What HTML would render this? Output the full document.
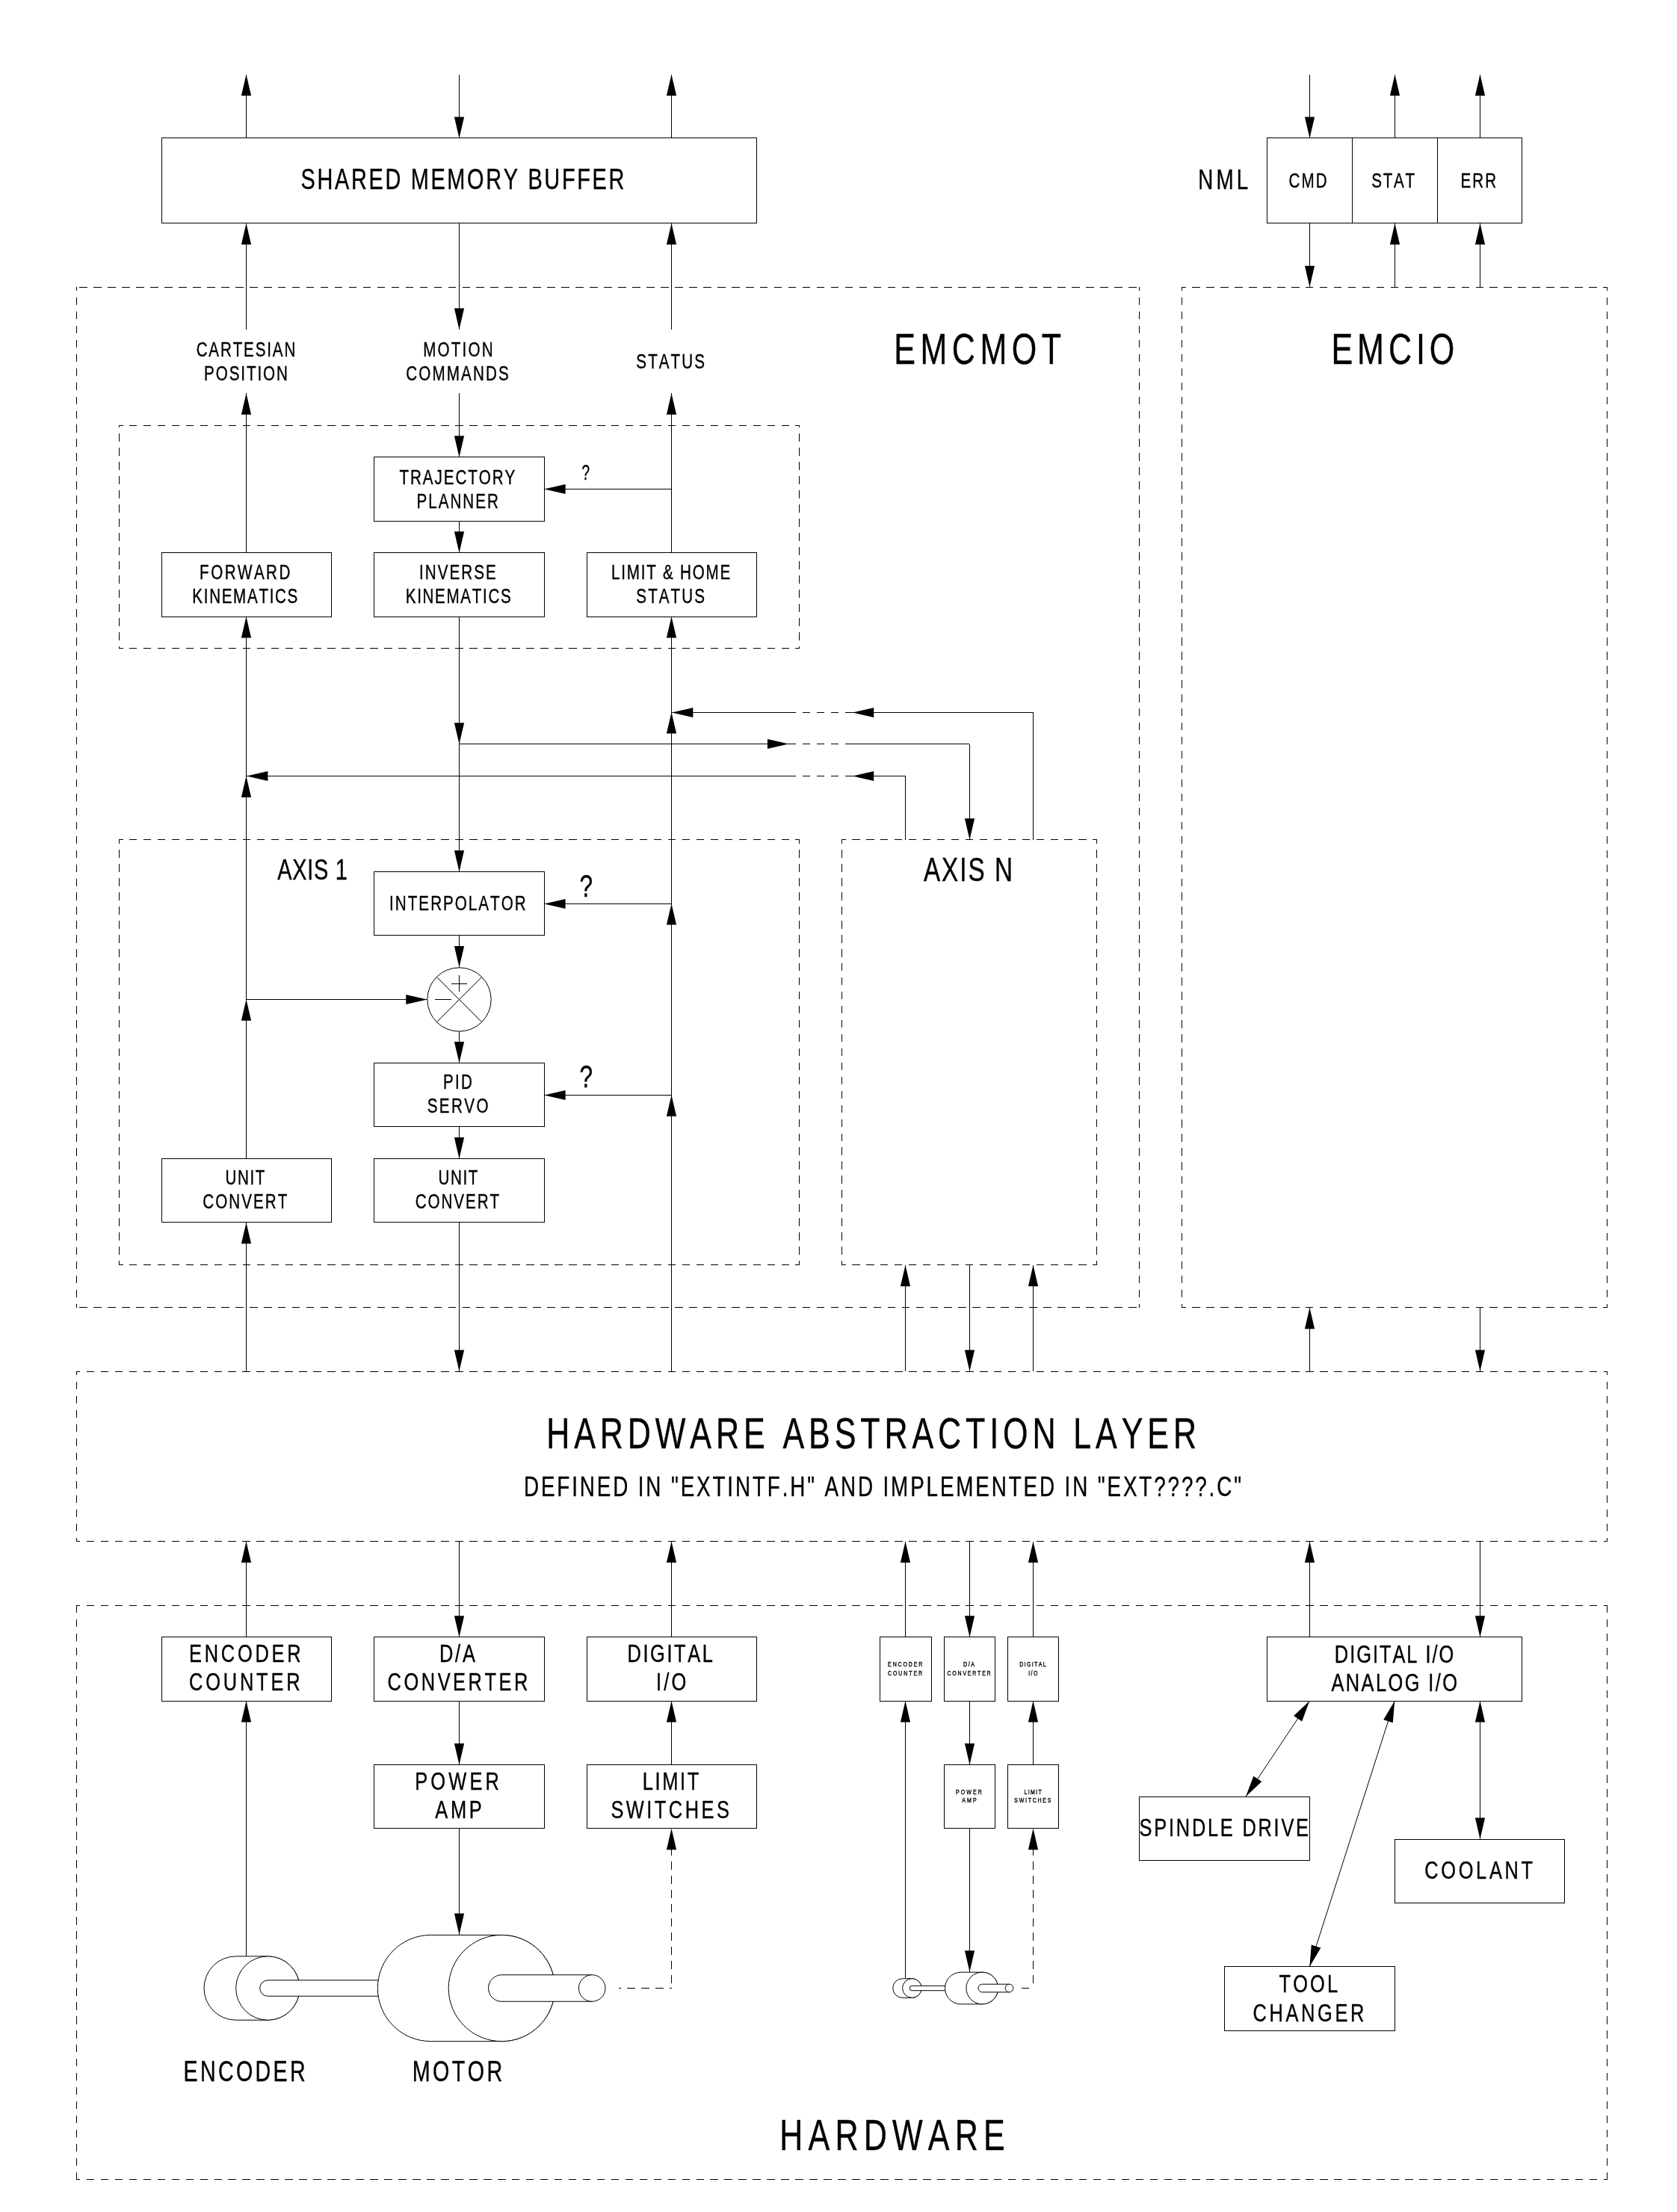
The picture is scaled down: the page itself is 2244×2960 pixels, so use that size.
<!DOCTYPE html>
<html><head><meta charset="utf-8"><title>EMC architecture</title>
<style>
html,body{margin:0;padding:0;background:#fff}
body{width:2244px;height:2960px;overflow:hidden}
svg{display:block}
.c path{fill:none;stroke:#000;stroke-width:1}
.c .d{stroke-dasharray:10.6 8.37}
.a path,.a circle{stroke:#000;stroke-width:1}
.a .h{fill:#000;stroke:none}
text{font-family:"Liberation Sans",sans-serif;fill:#000;stroke:#000;stroke-width:.42px;font-kerning:none;white-space:pre}
</style></head><body>
<svg width="2244" height="2960" viewBox="0 0 2244 2960">
<rect width="2244" height="2960" fill="#fff"/>
<g class="c" shape-rendering="crispEdges">
<path d="M216.5 184.5H1012.5V298.5H216.5Z"/>
<path d="M1695.5 184.5H2036.5V298.5H1695.5Z"/>
<path d="M500.5 611.5H728.5V697.5H500.5Z"/>
<path d="M216.5 739.5H443.5V825.5H216.5Z"/>
<path d="M500.5 739.5H728.5V825.5H500.5Z"/>
<path d="M785.5 739.5H1012.5V825.5H785.5Z"/>
<path d="M500.5 1166.5H728.5V1251.5H500.5Z"/>
<path d="M500.5 1422.5H728.5V1507.5H500.5Z"/>
<path d="M216.5 1550.5H443.5V1635.5H216.5Z"/>
<path d="M500.5 1550.5H728.5V1635.5H500.5Z"/>
<path d="M216.5 2190.5H443.5V2276.5H216.5Z"/>
<path d="M500.5 2190.5H728.5V2276.5H500.5Z"/>
<path d="M785.5 2190.5H1012.5V2276.5H785.5Z"/>
<path d="M500.5 2361.5H728.5V2446.5H500.5Z"/>
<path d="M785.5 2361.5H1012.5V2446.5H785.5Z"/>
<path d="M1177.5 2190.5H1246.5V2276.5H1177.5Z"/>
<path d="M1263.5 2190.5H1331.5V2276.5H1263.5Z"/>
<path d="M1348.5 2190.5H1416.5V2276.5H1348.5Z"/>
<path d="M1263.5 2361.5H1331.5V2446.5H1263.5Z"/>
<path d="M1348.5 2361.5H1416.5V2446.5H1348.5Z"/>
<path d="M1695.5 2190.5H2036.5V2276.5H1695.5Z"/>
<path d="M1524.5 2404.5H1752.5V2489.5H1524.5Z"/>
<path d="M1866.5 2461.5H2093.5V2546.5H1866.5Z"/>
<path d="M1638.5 2631.5H1866.5V2717.5H1638.5Z"/>
<path d="M1809.5 184.97V298.77"/>
<path d="M1923.5 184.97V298.77"/>
<path d="M102 384.5H1525" class="d" stroke-dashoffset="14.66"/>
<path d="M102 1749.5H1525" class="d" stroke-dashoffset="14.66"/>
<path d="M102.5 384V1750" class="d" stroke-dashoffset="5.22"/>
<path d="M1524.5 384V1750" class="d" stroke-dashoffset="5.22"/>
<path d="M1581 384.5H2151" class="d" stroke-dashoffset="4.85"/>
<path d="M1581 1749.5H2151" class="d" stroke-dashoffset="4.85"/>
<path d="M1581.5 384V1750" class="d" stroke-dashoffset="5.22"/>
<path d="M2150.5 384V1750" class="d" stroke-dashoffset="5.22"/>
<path d="M159 569.5H1070" class="d" stroke-dashoffset="5.08"/>
<path d="M159 867.5H1070" class="d" stroke-dashoffset="5.08"/>
<path d="M159.5 569V868" class="d" stroke-dashoffset="7.56"/>
<path d="M1069.5 569V868" class="d" stroke-dashoffset="7.56"/>
<path d="M159 1123.5H1070" class="d" stroke-dashoffset="5.08"/>
<path d="M159 1692.5H1070" class="d" stroke-dashoffset="5.08"/>
<path d="M159.5 1123V1693" class="d" stroke-dashoffset="4.85"/>
<path d="M1069.5 1123V1693" class="d" stroke-dashoffset="4.85"/>
<path d="M1126 1123.5H1468" class="d" stroke-dashoffset="5.03"/>
<path d="M1126 1692.5H1468" class="d" stroke-dashoffset="5.03"/>
<path d="M1126.5 1123V1693" class="d" stroke-dashoffset="4.85"/>
<path d="M1467.5 1123V1693" class="d" stroke-dashoffset="4.85"/>
<path d="M102 1835.5H2151" class="d" stroke-dashoffset="5.18"/>
<path d="M102 2062.5H2151" class="d" stroke-dashoffset="5.18"/>
<path d="M102.5 1835V2063" class="d" stroke-dashoffset="5.12"/>
<path d="M2150.5 1835V2063" class="d" stroke-dashoffset="5.12"/>
<path d="M102 2148.5H2151" class="d" stroke-dashoffset="5.18"/>
<path d="M102 2916.5H2151" class="d" stroke-dashoffset="5.18"/>
<path d="M102.5 2148V2917" class="d" stroke-dashoffset="0.2"/>
<path d="M2150.5 2148V2917" class="d" stroke-dashoffset="0.2"/>
<path d="M329.5 99.62V184.97"/>
<path d="M614.5 99.62V184.97"/>
<path d="M898.5 99.62V184.97"/>
<path d="M329.5 298.77V441.02"/>
<path d="M614.5 298.77V441.02"/>
<path d="M898.5 298.77V441.02"/>
<path d="M329.5 526.37V739.75"/>
<path d="M614.5 526.37V611.72"/>
<path d="M898.5 526.37V739.75"/>
<path d="M614.5 697.07V739.75"/>
<path d="M728.2 654.5H898.9"/>
<path d="M1752.5 99.62V184.97"/>
<path d="M1752.5 298.77V384.12"/>
<path d="M1866.5 99.62V184.97"/>
<path d="M1866.5 298.77V384.12"/>
<path d="M1980.5 99.62V184.97"/>
<path d="M1980.5 298.77V384.12"/>
<path d="M329.5 825.1V1550.57"/>
<path d="M614.5 825.1V995.79"/>
<path d="M614.5 995.79V1166.49"/>
<path d="M898.5 825.1V1835.07"/>
<path d="M898.9 953.5H1055.38"/>
<path d="M1055.38 953.5H1140.72" class="d" stroke-dashoffset="0.57"/>
<path d="M1140.72 953.5H1382.55"/>
<path d="M1382.5 953.12V1123.82"/>
<path d="M614.4 995.5H1055.38"/>
<path d="M1055.38 995.5H1140.72" class="d" stroke-dashoffset="0.57"/>
<path d="M1140.72 995.5H1297.2"/>
<path d="M1297.5 995.79V1123.82"/>
<path d="M329.9 1038.5H1055.38"/>
<path d="M1055.38 1038.5H1140.72" class="d" stroke-dashoffset="0.57"/>
<path d="M1140.72 1038.5H1211.85"/>
<path d="M1211.5 1038.47V1123.82"/>
<path d="M614.5 1251.84V1294.52"/>
<path d="M614.5 1379.87V1422.55"/>
<path d="M614.5 1507.89V1550.57"/>
<path d="M329.9 1337.5H571.73"/>
<path d="M728.2 1209.5H898.9"/>
<path d="M728.2 1465.5H898.9"/>
<path d="M329.5 1635.92V1835.07"/>
<path d="M614.5 1635.92V1835.07"/>
<path d="M1211.5 1692.82V1835.07"/>
<path d="M1297.5 1692.82V1835.07"/>
<path d="M1382.5 1692.82V1835.07"/>
<path d="M1752.5 1749.72V1835.07"/>
<path d="M1980.5 1749.72V1835.07"/>
<path d="M329.5 2062.67V2190.69"/>
<path d="M614.5 2062.67V2190.69"/>
<path d="M898.5 2062.67V2190.69"/>
<path d="M1211.5 2062.67V2190.69"/>
<path d="M1297.5 2062.67V2190.69"/>
<path d="M1382.5 2062.67V2190.69"/>
<path d="M1752.5 2062.67V2190.69"/>
<path d="M1980.5 2062.67V2190.69"/>
<path d="M329.5 2276.04V2617.44"/>
<path d="M614.5 2276.04V2361.39"/>
<path d="M614.5 2446.74V2588.99"/>
<path d="M898.5 2276.04V2361.39"/>
<path d="M1211.5 2276.04V2647.32"/>
<path d="M1297.5 2276.04V2361.39"/>
<path d="M1297.5 2446.74V2638.78"/>
<path d="M1382.5 2276.04V2361.39"/>
<path d="M827.77 2660.5H898.9" class="d" stroke-dashoffset="7.68"/>
<path d="M898.5 2446.74V2660.12" class="d" stroke-dashoffset="12.43"/>
<path d="M1361.21 2660.5H1382.55" class="d" stroke-dashoffset="13.6"/>
<path d="M1382.5 2446.74V2660.12" class="d" stroke-dashoffset="12.43"/>
</g>
<g class="a" fill="none">
<path class="h" d="M329.5 99.62L336.1 128.07L322.9 128.07Z"/>
<path class="h" d="M614.5 184.97L607.9 156.52L621.1 156.52Z"/>
<path class="h" d="M898.5 99.62L905.1 128.07L891.9 128.07Z"/>
<path class="h" d="M329.5 298.77L336.1 327.22L322.9 327.22Z"/>
<path class="h" d="M614.5 441.02L607.9 412.57L621.1 412.57Z"/>
<path class="h" d="M898.5 298.77L905.1 327.22L891.9 327.22Z"/>
<path class="h" d="M329.5 526.37L336.1 554.82L322.9 554.82Z"/>
<path class="h" d="M614.5 611.72L607.9 583.27L621.1 583.27Z"/>
<path class="h" d="M898.5 526.37L905.1 554.82L891.9 554.82Z"/>
<path class="h" d="M614.5 739.75L607.9 711.29L621.1 711.29Z"/>
<path class="h" d="M728.2 654.5L756.65 647.9L756.65 661.1Z"/>
<path class="h" d="M1752.5 184.97L1745.9 156.52L1759.1 156.52Z"/>
<path class="h" d="M1752.5 384.12L1745.9 355.67L1759.1 355.67Z"/>
<path class="h" d="M1866.5 99.62L1873.1 128.07L1859.9 128.07Z"/>
<path class="h" d="M1866.5 298.77L1873.1 327.22L1859.9 327.22Z"/>
<path class="h" d="M1980.5 99.62L1987.1 128.07L1973.9 128.07Z"/>
<path class="h" d="M1980.5 298.77L1987.1 327.22L1973.9 327.22Z"/>
<path class="h" d="M329.5 825.1L336.1 853.55L322.9 853.55Z"/>
<path class="h" d="M329.5 1038.47L336.1 1066.92L322.9 1066.92Z"/>
<path class="h" d="M329.5 1337.2L336.1 1365.65L322.9 1365.65Z"/>
<path class="h" d="M614.5 995.79L607.9 967.34L621.1 967.34Z"/>
<path class="h" d="M614.5 1166.49L607.9 1138.04L621.1 1138.04Z"/>
<path class="h" d="M898.5 825.1L905.1 853.55L891.9 853.55Z"/>
<path class="h" d="M898.5 953.12L905.1 981.57L891.9 981.57Z"/>
<path class="h" d="M898.5 1209.17L905.1 1237.62L891.9 1237.62Z"/>
<path class="h" d="M898.5 1465.22L905.1 1493.67L891.9 1493.67Z"/>
<path class="h" d="M898.9 953.5L927.35 946.9L927.35 960.1Z"/>
<path class="h" d="M1140.72 953.5L1169.17 946.9L1169.17 960.1Z"/>
<path class="h" d="M1055.38 995.5L1026.92 1002.1L1026.92 988.9Z"/>
<path class="h" d="M1297.5 1123.82L1290.9 1095.37L1304.1 1095.37Z"/>
<path class="h" d="M329.9 1038.5L358.35 1031.9L358.35 1045.1Z"/>
<path class="h" d="M1140.72 1038.5L1169.17 1031.9L1169.17 1045.1Z"/>
<path class="h" d="M614.5 1294.52L607.9 1266.07L621.1 1266.07Z"/>
<path class="h" d="M614.5 1422.55L607.9 1394.1L621.1 1394.1Z"/>
<path class="h" d="M614.5 1550.57L607.9 1522.12L621.1 1522.12Z"/>
<path class="h" d="M571.73 1337.5L543.27 1344.1L543.27 1330.9Z"/>
<path class="h" d="M728.2 1209.5L756.65 1202.9L756.65 1216.1Z"/>
<path class="h" d="M728.2 1465.5L756.65 1458.9L756.65 1472.1Z"/>
<path class="h" d="M329.5 1635.92L336.1 1664.37L322.9 1664.37Z"/>
<path class="h" d="M614.5 1835.07L607.9 1806.62L621.1 1806.62Z"/>
<path class="h" d="M1211.5 1692.82L1218.1 1721.27L1204.9 1721.27Z"/>
<path class="h" d="M1297.5 1835.07L1290.9 1806.62L1304.1 1806.62Z"/>
<path class="h" d="M1382.5 1692.82L1389.1 1721.27L1375.9 1721.27Z"/>
<path class="h" d="M1752.5 1749.72L1759.1 1778.17L1745.9 1778.17Z"/>
<path class="h" d="M1980.5 1835.07L1973.9 1806.62L1987.1 1806.62Z"/>
<path class="h" d="M329.5 2062.67L336.1 2091.12L322.9 2091.12Z"/>
<path class="h" d="M614.5 2190.69L607.9 2162.24L621.1 2162.24Z"/>
<path class="h" d="M898.5 2062.67L905.1 2091.12L891.9 2091.12Z"/>
<path class="h" d="M1211.5 2062.67L1218.1 2091.12L1204.9 2091.12Z"/>
<path class="h" d="M1297.5 2190.69L1290.9 2162.24L1304.1 2162.24Z"/>
<path class="h" d="M1382.5 2062.67L1389.1 2091.12L1375.9 2091.12Z"/>
<path class="h" d="M1752.5 2062.67L1759.1 2091.12L1745.9 2091.12Z"/>
<path class="h" d="M1980.5 2190.69L1973.9 2162.24L1987.1 2162.24Z"/>
<path class="h" d="M329.5 2276.04L336.1 2304.49L322.9 2304.49Z"/>
<path class="h" d="M614.5 2361.39L607.9 2332.95L621.1 2332.95Z"/>
<path class="h" d="M614.5 2588.99L607.9 2560.55L621.1 2560.55Z"/>
<path class="h" d="M898.5 2276.04L905.1 2304.49L891.9 2304.49Z"/>
<path class="h" d="M1211.5 2276.04L1218.1 2304.49L1204.9 2304.49Z"/>
<path class="h" d="M1297.5 2361.39L1290.9 2332.95L1304.1 2332.95Z"/>
<path class="h" d="M1297.5 2638.78L1290.9 2610.33L1304.1 2610.33Z"/>
<path class="h" d="M1382.5 2276.04L1389.1 2304.49L1375.9 2304.49Z"/>
<path class="h" d="M898.5 2446.74L905.1 2475.19L891.9 2475.19Z"/>
<path class="h" d="M1382.5 2446.74L1389.1 2475.19L1375.9 2475.19Z"/>
<path d="M1752.4 2276.04L1667.05 2404.07"/>
<path class="h" d="M1667.05 2404.07L1677.34 2376.74L1688.32 2384.06Z"/>
<path class="h" d="M1752.4 2276.04L1742.11 2303.38L1731.13 2296.06Z"/>
<path d="M1866.2 2276.04L1752.4 2631.67"/>
<path class="h" d="M1752.4 2631.67L1754.78 2602.56L1767.36 2606.59Z"/>
<path class="h" d="M1866.2 2276.04L1863.82 2305.15L1851.24 2301.13Z"/>
<path d="M1980.5 2276.04L1980.5 2460.97"/>
<path class="h" d="M1980.5 2460.97L1973.9 2432.52L1987.1 2432.52Z"/>
<path class="h" d="M1980.5 2276.04L1987.1 2304.49L1973.9 2304.49Z"/>
<circle cx="614.5" cy="1337.5" r="42.67" fill="#fff"/>
<path d="M584.32 1307.32L644.68 1367.68M584.32 1367.68L644.68 1307.32"/>
<path shape-rendering="crispEdges" d="M603.83 1316.5H625.17M614.5 1305.49V1326.83M582.49 1337.5H603.83"/>
<path d="M358.35 2617.82H315.67A42.67 42.67 0 0 0 315.67 2703.18H358.35A42.67 42.67 0 0 0 358.35 2617.82Z" fill="#fff"/>
<circle cx="358.35" cy="2660.5" r="42.67" fill="#fff"/>
<path d="M511.98 2649.83H358.35A10.67 10.67 0 0 0 358.35 2671.17H511.98" fill="#fff"/>
<path d="M671.3 2589.38H576.46A71.12 71.12 0 0 0 576.46 2731.62H671.3A71.12 71.12 0 0 0 671.3 2589.38Z" fill="#fff"/>
<circle cx="671.3" cy="2660.5" r="71.12" fill="#fff"/>
<path d="M792.21 2642.72H671.3A17.78 17.78 0 0 0 671.3 2678.28H792.21" fill="#fff"/>
<circle cx="792.21" cy="2660.5" r="17.78" fill="#fff"/>
<path d="M1220.38 2647.7H1207.58A12.8 12.8 0 0 0 1207.58 2673.3H1220.38A12.8 12.8 0 0 0 1220.38 2647.7Z" fill="#fff"/>
<circle cx="1220.38" cy="2660.5" r="12.8" fill="#fff"/>
<path d="M1266.47 2657.3H1220.38A3.2 3.2 0 0 0 1220.38 2663.7H1266.47" fill="#fff"/>
<path d="M1314.27 2639.16H1285.82A21.34 21.34 0 0 0 1285.82 2681.84H1314.27A21.34 21.34 0 0 0 1314.27 2639.16Z" fill="#fff"/>
<circle cx="1314.27" cy="2660.5" r="21.34" fill="#fff"/>
<path d="M1350.54 2655.17H1314.27A5.33 5.33 0 0 0 1314.27 2665.83H1350.54" fill="#fff"/>
<circle cx="1350.54" cy="2660.5" r="5.33" fill="#fff"/>
</g>
<g style="opacity:.999">
<text transform="translate(402.59 253.1) scale(0.75 1)" font-size="38.52" letter-spacing="3.57">SHARED MEMORY BUFFER</text>
<text transform="translate(1603.32 252.6) scale(0.75 1)" font-size="37.06" letter-spacing="5.41">NML</text>
<text transform="translate(1724.45 251) scale(0.75 1)" font-size="27.47" letter-spacing="2.81">CMD</text>
<text transform="translate(1835.36 251) scale(0.75 1)" font-size="27.47" letter-spacing="2.29">STAT</text>
<text transform="translate(1954.51 251) scale(0.75 1)" font-size="27.47" letter-spacing="2.83">ERR</text>
<text transform="translate(1196.27 486.7) scale(0.75 1)" font-size="57.41" letter-spacing="8.66">EMCMOT</text>
<text transform="translate(1781.47 486.7) scale(0.75 1)" font-size="57.41" letter-spacing="7.92">EMCIO</text>
<text transform="translate(262.65 476.7) scale(0.75 1)" font-size="27.47" letter-spacing="2.47">CARTESIAN</text>
<text transform="translate(273.01 508.9) scale(0.75 1)" font-size="27.47" letter-spacing="2.58">POSITION</text>
<text transform="translate(566.21 476.7) scale(0.75 1)" font-size="27.47" letter-spacing="2.92">MOTION</text>
<text transform="translate(543.35 508.9) scale(0.75 1)" font-size="27.47" letter-spacing="2.84">COMMANDS</text>
<text transform="translate(851.36 492.5) scale(0.75 1)" font-size="27.47" letter-spacing="2.75">STATUS</text>
<text transform="translate(534.54 647.8) scale(0.75 1)" font-size="27.47" letter-spacing="2.57">TRAJECTORY</text>
<text transform="translate(557.51 679.8) scale(0.75 1)" font-size="27.47" letter-spacing="2.67">PLANNER</text>
<text transform="translate(267.11 775.2) scale(0.75 1)" font-size="27.47" letter-spacing="3.3">FORWARD</text>
<text transform="translate(257.31 807.2) scale(0.75 1)" font-size="27.47" letter-spacing="2.25">KINEMATICS</text>
<text transform="translate(560.9 775.2) scale(0.75 1)" font-size="27.47" letter-spacing="2.79">INVERSE</text>
<text transform="translate(542.71 807.2) scale(0.75 1)" font-size="27.47" letter-spacing="2.25">KINEMATICS</text>
<text transform="translate(818.01 775.2) scale(0.75 1)" font-size="27.47" letter-spacing="2.37">LIMIT &amp; HOME</text>
<text transform="translate(851.36 807.2) scale(0.75 1)" font-size="27.47" letter-spacing="2.75">STATUS</text>
<text transform="translate(778.52 642) scale(0.66 1)" font-size="28.63" letter-spacing="0">?</text>
<text transform="translate(371.14 1176.9) scale(0.75 1)" font-size="38.52" letter-spacing="1">AXIS 1</text>
<text transform="translate(1235.94 1178.9) scale(0.75 1)" font-size="44.33" letter-spacing="2.66">AXIS N</text>
<text transform="translate(521.1 1218) scale(0.75 1)" font-size="27.47" letter-spacing="2.71">INTERPOLATOR</text>
<text transform="translate(592.91 1457.4) scale(0.75 1)" font-size="27.47" letter-spacing="3.02">PID</text>
<text transform="translate(571.66 1489.4) scale(0.75 1)" font-size="27.47" letter-spacing="3.23">SERVO</text>
<text transform="translate(301.51 1585) scale(0.75 1)" font-size="27.47" letter-spacing="2.09">UNIT</text>
<text transform="translate(271.35 1617) scale(0.75 1)" font-size="27.47" letter-spacing="2.71">CONVERT</text>
<text transform="translate(586.51 1585) scale(0.75 1)" font-size="27.47" letter-spacing="2.09">UNIT</text>
<text transform="translate(555.65 1617) scale(0.75 1)" font-size="27.47" letter-spacing="2.62">CONVERT</text>
<text transform="translate(775.6 1199.6) scale(0.75 1)" font-size="42.15" letter-spacing="0">?</text>
<text transform="translate(775.6 1454.7) scale(0.75 1)" font-size="42.15" letter-spacing="0">?</text>
<text transform="translate(731.27 1937.7) scale(0.75 1)" font-size="57.41" letter-spacing="7.86">HARDWARE ABSTRACTION LAYER</text>
<text transform="translate(700.92 2002.1) scale(0.75 1)" font-size="37.06" letter-spacing="3.85">DEFINED IN &quot;EXTINTF.H&quot; AND IMPLEMENTED IN &quot;EXT????.C&quot;</text>
<text transform="translate(1043.17 2877) scale(0.75 1)" font-size="57.41" letter-spacing="9.62">HARDWARE</text>
<text transform="translate(245.55 2784.9) scale(0.75 1)" font-size="38.23" letter-spacing="4.4">ENCODER</text>
<text transform="translate(551.65 2784.9) scale(0.75 1)" font-size="38.23" letter-spacing="4.66">MOTOR</text>
<text transform="translate(253.02 2224.4) scale(0.75 1)" font-size="33.87" letter-spacing="5.01">ENCODER</text>
<text transform="translate(1188.09 2230.38) scale(0.75 1)" font-size="9.31" letter-spacing="2.52">ENCODER</text>
<text transform="translate(253.11 2262.1) scale(0.75 1)" font-size="33.87" letter-spacing="5.08">COUNTER</text>
<text transform="translate(1188.09 2241.69) scale(0.75 1)" font-size="9.31" letter-spacing="2.54">COUNTER</text>
<text transform="translate(587.92 2224.4) scale(0.75 1)" font-size="33.87" letter-spacing="3.73">D/A</text>
<text transform="translate(1289.06 2230.38) scale(0.75 1)" font-size="9.31" letter-spacing="2.1">D/A</text>
<text transform="translate(518.61 2262.1) scale(0.75 1)" font-size="33.87" letter-spacing="4.72">CONVERTER</text>
<text transform="translate(1267.55 2241.69) scale(0.75 1)" font-size="9.31" letter-spacing="2.38">CONVERTER</text>
<text transform="translate(839.52 2224.4) scale(0.75 1)" font-size="33.87" letter-spacing="3.47">DIGITAL</text>
<text transform="translate(1364.21 2230.38) scale(0.75 1)" font-size="9.31" letter-spacing="1.83">DIGITAL</text>
<text transform="translate(877.96 2262.1) scale(0.75 1)" font-size="33.87" letter-spacing="4.26">I/O</text>
<text transform="translate(1376.14 2241.69) scale(0.75 1)" font-size="9.31" letter-spacing="2.03">I/O</text>
<text transform="translate(555.22 2394.9) scale(0.75 1)" font-size="33.87" letter-spacing="5.6">POWER</text>
<text transform="translate(1278.93 2401.02) scale(0.75 1)" font-size="9.31" letter-spacing="2.83">POWER</text>
<text transform="translate(582.35 2432.8) scale(0.75 1)" font-size="33.87" letter-spacing="4.96">AMP</text>
<text transform="translate(1287.27 2412.39) scale(0.75 1)" font-size="9.31" letter-spacing="2.8">AMP</text>
<text transform="translate(859.82 2394.9) scale(0.75 1)" font-size="33.87" letter-spacing="3.52">LIMIT</text>
<text transform="translate(1370.51 2401.02) scale(0.75 1)" font-size="9.31" letter-spacing="1.82">LIMIT</text>
<text transform="translate(817.45 2432.8) scale(0.75 1)" font-size="33.87" letter-spacing="4.64">SWITCHES</text>
<text transform="translate(1357.34 2412.39) scale(0.75 1)" font-size="9.31" letter-spacing="2.32">SWITCHES</text>
<text transform="translate(1785.82 2225) scale(0.75 1)" font-size="33.87" letter-spacing="2.64">DIGITAL I/O</text>
<text transform="translate(1781.45 2263) scale(0.75 1)" font-size="33.87" letter-spacing="3.23">ANALOG I/O</text>
<text transform="translate(1524.55 2457.2) scale(0.75 1)" font-size="33.87" letter-spacing="3.69">SPINDLE DRIVE</text>
<text transform="translate(1906.21 2513.6) scale(0.75 1)" font-size="33.87" letter-spacing="4.91">COOLANT</text>
<text transform="translate(1711.43 2666.4) scale(0.75 1)" font-size="33.87" letter-spacing="4.29">TOOL</text>
<text transform="translate(1676.61 2704.5) scale(0.75 1)" font-size="33.87" letter-spacing="4.83">CHANGER</text>
</g>
</svg>
</body></html>
